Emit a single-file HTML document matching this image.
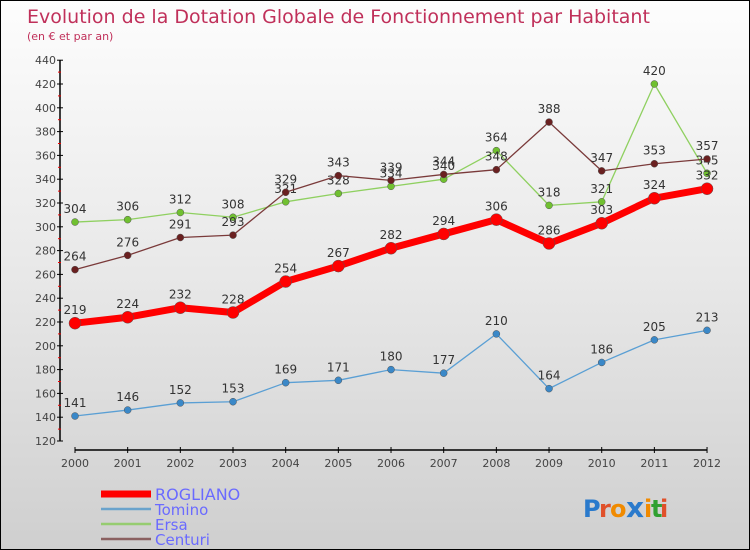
<!DOCTYPE html>
<html><head><meta charset="utf-8"><style>
body{margin:0}
#c{width:748px;height:548px;border:1px solid #000;background:linear-gradient(#fdfdfd,#e8e8e8 50%,#cfcfcf);position:relative;font-family:"DejaVu Sans","Liberation Sans",sans-serif;overflow:hidden}
</style></head><body>
<div id="c">
<svg id="s" width="748" height="548"></svg>
</div>
<script>
const years=["2000","2001","2002","2003","2004","2005","2006","2007","2008","2009","2010","2011","2012"];
const rogliano=[219,224,232,228,254,267,282,294,306,286,303,324,332];
const tomino=[141,146,152,153,169,171,180,177,210,164,186,205,213];
const ersa=[304,306,312,308,321,328,334,340,364,318,321,420,345];
const centuri=[264,276,291,293,329,343,339,344,348,388,347,353,357];
const yTicks=[120,140,160,180,200,220,240,260,280,300,320,340,360,380,400,420,440];
const NS="http://www.w3.org/2000/svg";
const s=document.getElementById('s');
function X(i){return 74+i*52.67;}
function Y(v){return 440-(v-120)*1.19;}
function el(t,a,txt){const e=document.createElementNS(NS,t);for(const k in a)e.setAttribute(k,a[k]);if(txt!==undefined)e.textContent=txt;s.appendChild(e);return e;}
let e;
e=el('text',{x:26,y:22,fill:'#c0305a','font-size':19},'Evolution de la Dotation Globale de Fonctionnement par Habitant');

e=el('text',{x:26,y:39,fill:'#c0305a','font-size':11},'(en € et par an)');

e=el('line',{x1:59,y1:Y(440),x2:59,y2:Y(120),stroke:'#000','stroke-width':1.5});

yTicks.forEach((v,i)=>{
 const t=el('line',{x1:56,x2:62,y1:Y(v),y2:Y(v),stroke:'#000'});
 
 if(i<yTicks.length-1){const m=el('line',{x1:57,x2:60,y1:Y(v+10),y2:Y(v+10),stroke:'#e00'});}
 const l=el('text',{x:55,y:Y(v)+4,'text-anchor':'end','font-size':11,fill:'#444'},v);
 
});
e=el('line',{x1:X(0),y1:449,x2:X(12),y2:449,stroke:'#000','stroke-width':1.5});

years.forEach((y,i)=>{
 const t=el('line',{x1:X(i),x2:X(i),y1:446,y2:452,stroke:'#000'});
 
 const l=el('text',{x:X(i),y:466,'text-anchor':'middle','font-size':11,fill:'#444'},y);
 
});
function series(name,data,color,w,r,ptFill){
 const p=data.map((v,i)=>X(i)+','+Y(v)).join(' ');
 const pl=el('polyline',{points:p,fill:'none',stroke:color,'stroke-width':w,'stroke-linejoin':'round'});
 
 data.forEach((v,i)=>{
  const c=el('circle',{cx:X(i),cy:Y(v),r:r,fill:ptFill,stroke:'#555','stroke-width':0.5});
  
  const t=el('text',{x:X(i),y:Y(v)-9,'text-anchor':'middle','font-size':12,fill:'#333'},v);
  
 });
}
series('tomino',tomino,'#5a9fd4',1.3,3.5,'#3a88c8');
series('ersa',ersa,'#8fd060',1.3,3.5,'#70c030');
series('centuri',centuri,'#7a3a3a',1.3,3.5,'#6a2020');
series('rogliano',rogliano,'#f00',7,6,'#f00');
const leg=[['ROGLIANO','#f00',7],['Tomino','#6aa3cc',2.5],['Ersa','#96cc70',2.5],['Centuri','#8a6060',2.5]];
leg.forEach((g,i)=>{
 const y=493+i*15;
 const l=el('line',{x1:100,x2:150,y1:y,y2:y,stroke:g[1],'stroke-width':g[2]});
 
 const t=el('text',{x:154,y:y+6,'font-size':i==0?16:15,fill:'#6a6aff'},g[0]);
 
});
const cols=['#2a7acc','#e0502a','#f08a00','#2a7acc','#f08a00','#30a030','#e0502a'];
const txt='Proxiti';let x=582;
[...txt].forEach((ch,i)=>{
 const t=el('text',{x:x,y:516,'font-size':i==3?28:24,'font-weight':'bold',fill:cols[i]},ch);
 
 x+=[16,11,16,18,7,9,7][i];
});
</script>
</body></html>
